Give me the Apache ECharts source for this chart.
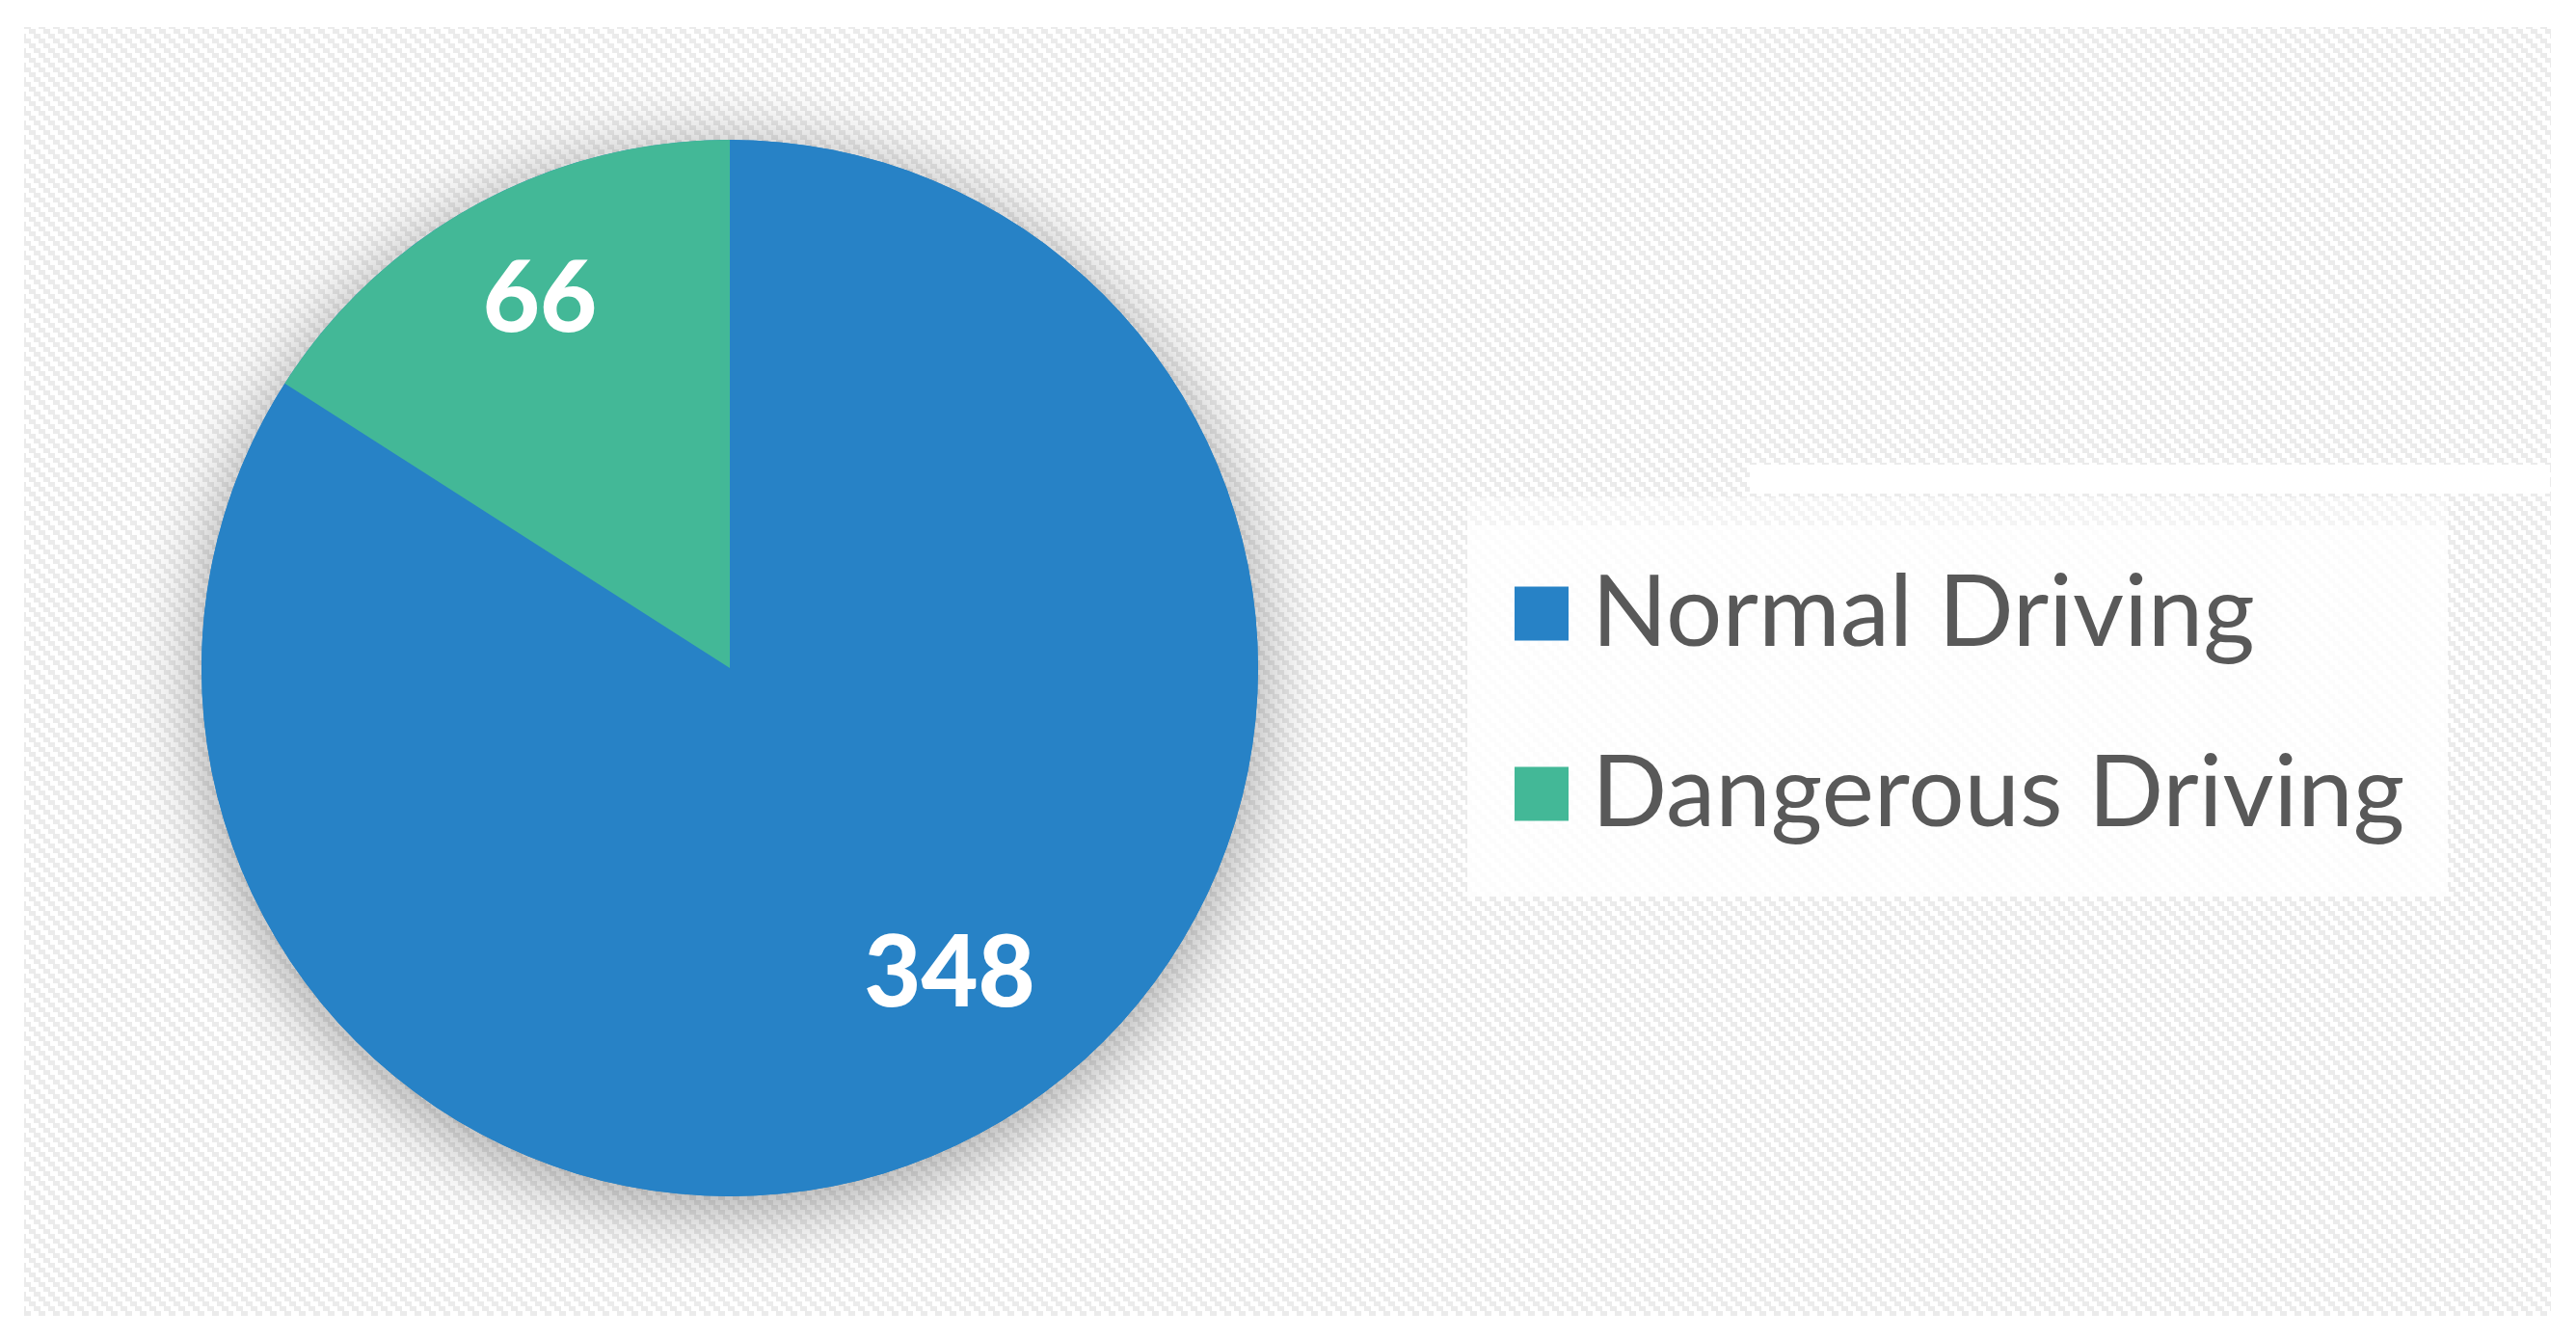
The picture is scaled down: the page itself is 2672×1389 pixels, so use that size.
<!DOCTYPE html>
<html>
<head>
<meta charset="utf-8">
<script src="https://cdn.jsdelivr.net/npm/echarts@6/dist/echarts.min.js"></script>
<style>
  html, body { margin: 0; padding: 0; background: #ffffff; }
  #chart { width: 2672px; height: 1389px; }
</style>
</head>
<body>
<div id="chart"></div>
<script>
// 数据
const categories = ['Normal Driving', 'Dangerous Driving'];
const values = [348, 66];
const colors = ['#2782C6', '#43B897'];
// 标签偏移（相对默认 inside 位置）
const labelOffsets = [[95, 75], [-64, -139]];

// 背景纹理：阶梯状斜纹
function makePattern() {
  const c = document.createElement('canvas');
  c.width = 15;
  c.height = 15;
  const ctx = c.getContext('2d');
  ctx.fillStyle = '#ffffff';
  ctx.fillRect(0, 0, 15, 15);
  ctx.fillStyle = '#ebebeb';
  for (let r = 0; r < 3; r++) {
    const x = r * 5;
    ctx.fillRect(x, r * 5, 7, 5);
    ctx.fillRect(x - 15, r * 5, 7, 5);
  }
  return c;
}

const chart = echarts.init(document.getElementById('chart'));
const option = {
  backgroundColor: '#ffffff',
  animation: false,
  graphic: [
    {
      type: 'rect', z: -10, silent: true,
      shape: {x: 25, y: 28, width: 2621, height: 1337},
      style: {fill: {image: makePattern(), repeat: 'repeat'}}
    },
    {
      type: 'rect', z: 1, silent: true,
      shape: {x: 1815, y: 482, width: 830, height: 30},
      style: {fill: '#ffffff'}
    },
    {
      type: 'rect', z: 1, silent: true,
      shape: {x: 1522, y: 516, width: 1017, height: 29},
      style: {fill: 'rgba(255,255,255,0.45)'}
    },
    {
      type: 'rect', z: 1, silent: true,
      shape: {x: 1522, y: 545, width: 1017, height: 385},
      style: {fill: 'rgba(255,255,255,0.85)'}
    }
  ],
  legend: {
    orient: 'vertical',
    left: 1571,
    top: 585,
    padding: 0,
    itemWidth: 56,
    itemHeight: 56,
    itemGap: 84,
    icon: 'rect',
    data: categories,
    textStyle: {
      fontFamily: 'Lato',
      fontSize: 103,
      lineHeight: 100,
      color: '#595959',
      padding: [0, 0, 0, 19]
    }
  },
  series: [
    {
      // 阴影底盘
      type: 'pie',
      z: 1,
      silent: true,
      center: [757, 693],
      radius: 548,
      itemStyle: {
        color: '#2782C6',
        shadowBlur: 80,
        shadowColor: 'rgba(0,0,0,0.38)',
        shadowOffsetY: 12
      },
      label: {show: false},
      labelLine: {show: false},
      emphasis: {disabled: true},
      data: [{name: 'shadow', value: 1}]
    },
    {
      type: 'pie',
      z: 2,
      center: [757, 693],
      radius: 548,
      startAngle: 90,
      clockwise: true,
      color: colors,
      label: {
        show: true,
        position: 'inside',
        color: '#ffffff',
        fontFamily: 'Lato',
        fontWeight: 900,
        fontSize: 102,
        formatter: '{c}'
      },
      labelLine: {show: false},
      emphasis: {disabled: true},
      data: categories.map((name, i) => ({
        name: name,
        value: values[i],
        label: {offset: labelOffsets[i]}
      }))
    }
  ]
};
chart.setOption(option);
</script>
</body>
</html>
